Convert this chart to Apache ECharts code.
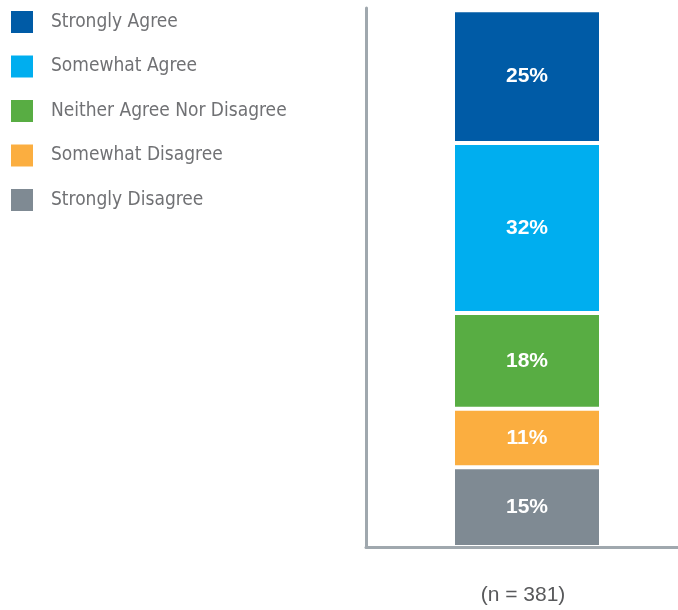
<!DOCTYPE html>
<html>
<head>
<meta charset="utf-8">
<script src="https://cdn.jsdelivr.net/npm/echarts@6/dist/echarts.min.js"></script>
<style>
  html, body { margin: 0; padding: 0; background: #ffffff; }
  #chart { width: 678px; height: 610px; }
</style>
</head>
<body>
<div id="chart"></div>
<script>
// Data
const categories = ['(n = 381)'];
const legendOrder = ['Strongly Agree', 'Somewhat Agree', 'Neither Agree Nor Disagree', 'Somewhat Disagree', 'Strongly Disagree'];
const stronglyDisagree = [15];
const somewhatDisagree = [11];
const neither = [18];
const somewhatAgree = [32];
const stronglyAgree = [25];

const colors = {
  'Strongly Agree': '#005BA6',
  'Somewhat Agree': '#00AEEF',
  'Neither Agree Nor Disagree': '#58AD43',
  'Somewhat Disagree': '#FBAE40',
  'Strongly Disagree': '#7F8A93'
};

const stackOrder = [
  ['Strongly Disagree', stronglyDisagree],
  ['Somewhat Disagree', somewhatDisagree],
  ['Neither Agree Nor Disagree', neither],
  ['Somewhat Agree', somewhatAgree],
  ['Strongly Agree', stronglyAgree]
];

const chart = echarts.init(document.getElementById('chart'), null, { renderer: 'canvas' });

const series = stackOrder.map(([name, values]) => ({
  name: name,
  type: 'bar',
  stack: 'total',
  data: values,
  barWidth: 148,
  itemStyle: { color: colors[name], borderColor: '#ffffff', borderWidth: 2 },
  label: {
    show: true,
    position: 'inside',
    formatter: '{c}%',
    color: '#ffffff',
    fontFamily: 'Liberation Sans',
    fontWeight: 'bold',
    fontSize: 21
  },
  emphasis: { disabled: true }
}));

chart.setOption({
  animation: false,
  backgroundColor: '#ffffff',
  legend: {
    data: legendOrder,
    orient: 'vertical',
    left: 9,
    top: 9,
    padding: 0,
    itemWidth: 24,
    itemHeight: 24,
    itemGap: 18.5,
    icon: 'rect',
    selectedMode: false,
    textStyle: {
      fontFamily: 'DejaVu Sans Condensed, Liberation Sans, sans-serif',
      fontSize: 19,
      color: '#707174',
      padding: [0, 0, 0, 12],
      lineHeight: 22
    }
  },
  grid: { left: 366, right: -10, top: 8, bottom: 63, outerBoundsMode: 'none', containLabel: false },
  xAxis: {
    type: 'category',
    data: categories,
    z: 5,
    axisLine: { show: true, lineStyle: { color: '#a0a8ae', width: 3 } },
    axisTick: { show: false },
    axisLabel: {
      margin: 38,
      fontFamily: 'Liberation Sans',
      fontSize: 21,
      color: '#58595b',
      padding: [0, 8, 0, 0]
    }
  },
  yAxis: {
    type: 'value',
    min: 0,
    max: 101.4,
    z: 5,
    axisLine: { show: true, lineStyle: { color: '#a0a8ae', width: 3 } },
    axisTick: { show: false },
    axisLabel: { show: false },
    splitLine: { show: false }
  },
  series: series
});
</script>
</body>
</html>
